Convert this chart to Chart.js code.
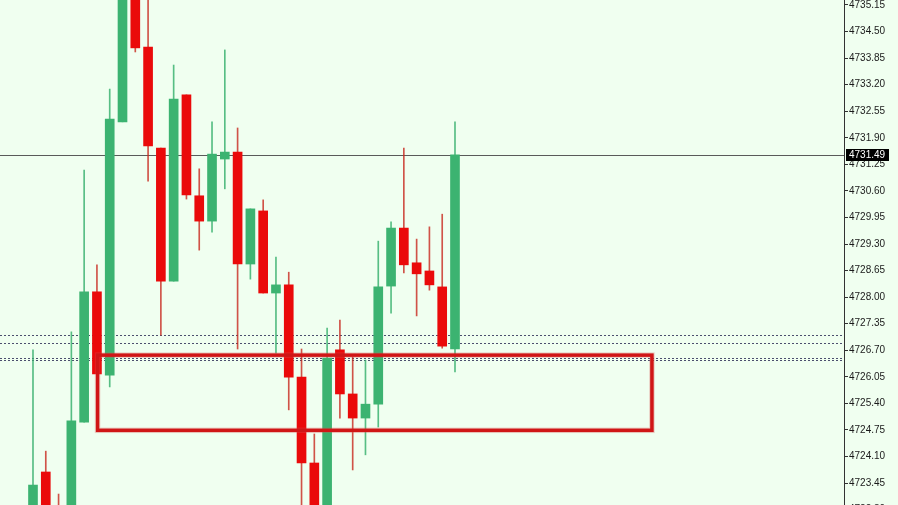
<!DOCTYPE html>
<html><head><meta charset="utf-8">
<script src="https://cdn.jsdelivr.net/npm/chart.js@4/dist/chart.umd.min.js"></script>
<style>html,body{margin:0;padding:0;background:#f0fff0;overflow:hidden}#wrap{width:898px;height:505px}</style>
</head><body><div id="wrap"><canvas id="c" width="898" height="505"></canvas></div>
<script>
const candleIndex = [0,1,2,3,4,5,6,7,8,9,10,11,12,13,14,15,16,17,18,19,20,21,22,23,24,25,26,27,28,29,30,31,32,33];
const opens  = [4722.54,4723.72,4722.79,4722.05,4724.94,4728.13,4726.09,4732.29,4735.52,4734.12,4731.65,4728.39,4732.95,4730.48,4729.86,4731.38,4731.55,4728.81,4730.11,4728.10,4728.30,4726.04,4723.94,4722.54,4726.71,4725.63,4725.04,4725.38,4728.27,4729.69,4728.84,4728.64,4728.25,4726.73];
const highs  = [4726.71,4724.23,4723.18,4727.15,4731.11,4728.79,4733.09,4735.76,4735.76,4735.60,4731.65,4733.68,4732.95,4731.14,4732.29,4734.05,4732.14,4730.16,4730.38,4728.98,4728.61,4726.73,4724.65,4727.24,4727.44,4726.53,4726.46,4729.37,4729.84,4731.65,4729.42,4729.72,4730.03,4732.29];
const lows   = [4722.42,4722.42,4721.93,4721.93,4724.94,4725.90,4725.80,4732.29,4734.00,4730.84,4727.07,4728.39,4730.40,4729.15,4729.59,4730.65,4726.73,4728.44,4728.10,4726.63,4725.24,4722.42,4722.30,4722.42,4725.04,4723.77,4724.14,4724.82,4727.61,4728.59,4727.54,4728.17,4726.75,4726.17];
const closes = [4723.40,4722.67,4722.18,4724.97,4728.13,4726.12,4732.36,4735.52,4734.10,4731.70,4728.39,4732.85,4730.50,4729.86,4731.50,4731.55,4728.81,4730.16,4728.10,4728.30,4726.04,4723.94,4722.54,4726.51,4725.63,4725.04,4725.38,4728.25,4729.69,4728.79,4728.57,4728.30,4726.80,4731.48];
const yTickLabels = ['4735.15','4734.50','4733.85','4733.20','4732.55','4731.90','4731.25','4730.60','4729.95','4729.30','4728.65','4728.00','4727.35','4726.70','4726.05','4725.40','4724.75','4724.10','4723.45','4722.80'];
const currentPrice = 4731.49;
const dottedLevels = [4727.07, 4726.88, 4726.51, 4726.45];
const zoneIndexRange = [5.05, 48.4];
const zonePriceRange = [4724.74, 4726.58];

const UP = '#3cb371', DOWN = '#ea0a0a';
const isUp = candleIndex.map((_, i) => closes[i] >= opens[i]);
const bodyData = candleIndex.map((x, i) => ({x, y: [opens[i], closes[i]]}));
const wickData = candleIndex.map((x, i) => ({x, y: [lows[i], highs[i]]}));

const overlay = {
  id: 'overlay',
  beforeDraw(chart) {
    const c = chart.ctx; c.save(); c.fillStyle = '#f0fff0'; c.fillRect(0, 0, chart.width, chart.height); c.restore();
  },
  beforeDatasetsDraw(chart) {
    const c = chart.ctx, a = chart.chartArea, ys = chart.scales.y;
    c.save();
    c.beginPath(); c.rect(a.left, a.top, a.right - a.left, a.bottom - a.top); c.clip();
    c.strokeStyle = '#4b4f6e'; c.lineWidth = 1; c.setLineDash([2, 2]);
    dottedLevels.forEach(v => {
      const y = Math.round(ys.getPixelForValue(v)) + 0.5;
      c.beginPath(); c.moveTo(a.left, y); c.lineTo(a.right, y); c.stroke();
    });
    c.setLineDash([]);
    c.strokeStyle = '#5a5a5a';
    const py = Math.round(ys.getPixelForValue(currentPrice)) + 0.5;
    c.beginPath(); c.moveTo(a.left, py); c.lineTo(a.right, py); c.stroke();
    c.restore();
  },
  afterDatasetsDraw(chart) {
    const c = chart.ctx, xs = chart.scales.x, ys = chart.scales.y;
    const x1 = xs.getPixelForValue(zoneIndexRange[0]), x2 = xs.getPixelForValue(zoneIndexRange[1]);
    const y1 = ys.getPixelForValue(zonePriceRange[1]), y2 = ys.getPixelForValue(zonePriceRange[0]);
    c.save();
    c.strokeStyle = 'rgba(220,90,90,0.3)'; c.lineWidth = 5.5;
    c.strokeRect(x1, y1, x2 - x1, y2 - y1);
    c.strokeStyle = '#d01616'; c.lineWidth = 3.5;
    c.strokeRect(x1, y1, x2 - x1, y2 - y1);
    c.restore();
  },
  afterDraw(chart) {
    const c = chart.ctx, ys = chart.scales.y, a = chart.chartArea;
    const y = Math.round(ys.getPixelForValue(currentPrice));
    c.save();
    c.fillStyle = '#000';
    c.fillRect(a.right + 2, y - 6, 43, 12);
    c.fillStyle = '#fff'; c.font = '10px "Liberation Sans", Arial, sans-serif';
    c.textBaseline = 'middle'; c.textAlign = 'left';
    c.fillText(currentPrice.toFixed(2), a.right + 5, y + 0.5);
    c.restore();
  }
};

new Chart(document.getElementById('c'), {
  type: 'bar',
  data: {
    datasets: [
      { data: bodyData, backgroundColor: isUp.map(u => u ? UP : DOWN), borderWidth: 0,
        grouped: false, categoryPercentage: 1, barPercentage: 1, maxBarThickness: 9 },
      { data: wickData, backgroundColor: isUp.map(u => u ? 'rgba(60,179,113,0.85)' : 'rgba(200,40,30,0.8)'), borderWidth: 0,
        grouped: false, categoryPercentage: 1, barPercentage: 1, maxBarThickness: 1 }
    ]
  },
  plugins: [overlay],
  options: {
    responsive: false, animation: false, devicePixelRatio: 1,
    layout: { padding: 0 },
    plugins: { legend: { display: false }, tooltip: { enabled: false } },
    scales: {
      x: { type: 'linear', min: -2.58, max: 63.42, display: false, offset: false, grid: { display: false } },
      y: {
        position: 'right', min: 4722.912, max: 4735.272,
        afterBuildTicks: s => { s.ticks = yTickLabels.map(t => ({ value: parseFloat(t) })); },
        afterFit: s => { s.width = 54; s.paddingTop = 0; s.paddingBottom = 0; },
        grid: { drawOnChartArea: false, drawTicks: true, tickLength: 4, color: '#333' },
        border: { display: true, color: '#333', width: 1 },
        ticks: { autoSkip: false, padding: 1, color: '#1a1a1a', font: { family: '"Liberation Sans", Arial, sans-serif', size: 10 },
          callback: v => v.toFixed(2) }
      }
    }
  }
});
</script></body></html>
